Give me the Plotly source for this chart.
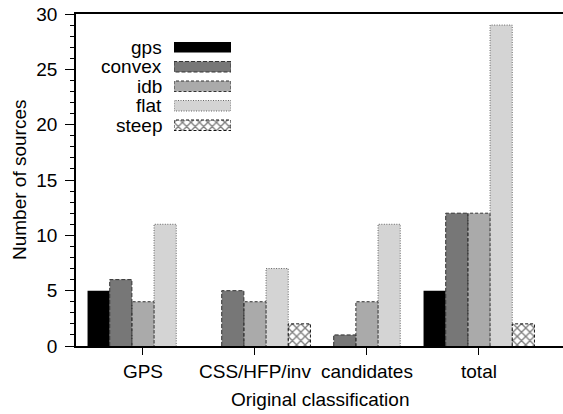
import plotly.graph_objects as go

categories = ["GPS", "CSS/HFP/inv", "candidates", "total"]
series_names = ["gps", "convex", "idb", "flat", "steep"]
gps = [5, 0, 0, 5]
convex = [6, 5, 1, 12]
idb = [4, 4, 4, 12]
flat = [11, 7, 11, 29]
steep = [0, 2, 0, 2]
values = [gps, convex, idb, flat, steep]

fills = ["#000000", "#777777", "#aaaaaa", "#d4d4d4", "#ffffff"]
edge_colors = ["#000000", "#333333", "#333333", "#666666", "#111111"]
edge_dash = [None, "4px,2px", "3px,2px", "1px,1.5px", "3px,2px"]
patterns = [None, None, None, None, dict(shape="x", fgcolor="#000000", bgcolor="#ffffff", size=6, solidity=0.4)]

W, H = 563, 414
L, R, T, B = 76, 0, 14, 68
pw = W - L - R
ph = H - T - B
w = 0.198
x_lo = -0.598
x_hi = x_lo + pw / 112.0

fig = go.Figure()
font = "Liberation Sans, Arial, sans-serif"
FS = 19

for j, name in enumerate(series_names):
    xs = [i + (j - 2) * w for i in range(len(categories))]
    marker = dict(color=fills[j], line=dict(width=0))
    if patterns[j]:
        marker["pattern"] = patterns[j]
    fig.add_trace(go.Bar(x=xs, y=values[j], width=w, marker=marker,
                         showlegend=False, xaxis="x", yaxis="y"))
    if edge_dash[j]:
        ox, oy = [], []
        for xc, v in zip(xs, values[j]):
            if v <= 0:
                continue
            ox += [xc - w / 2, xc - w / 2, xc + w / 2, xc + w / 2, None]
            oy += [0, v, v, 0, None]
        fig.add_trace(go.Scatter(x=ox, y=oy, mode="lines",
                                 line=dict(color=edge_colors[j], width=1, dash=edge_dash[j]),
                                 showlegend=False, hoverinfo="skip", xaxis="x", yaxis="y"))

# custom legend (text left of swatch) on an overlay axis
row_h = 19.5
leg_top = 37.5
leg_x0, leg_x1 = 174, 231
n = len(series_names)
dom_y1 = 1 - (leg_top - T) / ph
dom_y0 = dom_y1 - n * row_h / ph
sw_h = 10.5 / row_h
for j, name in enumerate(series_names):
    marker = dict(color=fills[j], line=dict(width=0))
    if patterns[j]:
        marker["pattern"] = patterns[j]
    fig.add_trace(go.Bar(x=[1], y=[j], orientation="h", width=sw_h, marker=marker,
                         showlegend=False, xaxis="x2", yaxis="y2"))
    if edge_dash[j]:
        fig.add_trace(go.Scatter(x=[0, 0, 1, 1, 0], y=[j - sw_h / 2, j + sw_h / 2, j + sw_h / 2, j - sw_h / 2, j - sw_h / 2],
                                 mode="lines", line=dict(color=edge_colors[j], width=1, dash=edge_dash[j]),
                                 showlegend=False, hoverinfo="skip", xaxis="x2", yaxis="y2"))
    fig.add_annotation(x=(164 - L) / pw, xref="paper", y=j, yref="y2", text=name,
                       showarrow=False, xanchor="right", yanchor="middle",
                       font=dict(family=font, size=FS, color="#000"))

fig.update_layout(
    width=W, height=H, margin=dict(l=L, r=R, t=T, b=B, autoexpand=False),
    plot_bgcolor="white", paper_bgcolor="white", barmode="overlay",
    font=dict(family=font, size=FS, color="#000"),
    xaxis=dict(range=[x_lo, x_hi], tickvals=list(range(len(categories))), ticktext=categories,
               ticks="outside", ticklen=7, tickwidth=1, tickcolor="#000",
               showline=True, linecolor="#000", linewidth=1.5, mirror=True,
               showgrid=False, zeroline=False, tickfont=dict(size=FS)),
    yaxis=dict(range=[0, 30], tickvals=[0, 5, 10, 15, 20, 25, 30],
               ticks="outside", ticklen=9, tickwidth=1, tickcolor="#000",
               minor=dict(dtick=1, ticks="outside", ticklen=4, tickcolor="#000", tickwidth=1, showgrid=False),
               showline=True, linecolor="#000", linewidth=1.5,
               showgrid=False, zeroline=False, tickfont=dict(size=FS), ticklabelstandoff=4),
    xaxis2=dict(domain=[(leg_x0 - L) / pw, (leg_x1 - L) / pw], range=[0, 1], anchor="y2",
                visible=False, fixedrange=True),
    yaxis2=dict(domain=[dom_y0, dom_y1], range=[n - 0.5, -0.5], anchor="x2",
                visible=False, fixedrange=True),
    showlegend=False,
)

fig.add_annotation(x=(19 - L) / pw, xref="paper", y=0.5, yref="paper", text="Number of sources",
                   textangle=-90, showarrow=False, xanchor="center", yanchor="middle",
                   font=dict(family=font, size=FS))
fig.add_annotation(x=(320 - L) / pw, xref="paper", y=-(399 - (T + ph)) / ph, yref="paper",
                   text="Original classification", showarrow=False, xanchor="center", yanchor="middle",
                   font=dict(family=font, size=FS))

fig.write_html("out.html")
